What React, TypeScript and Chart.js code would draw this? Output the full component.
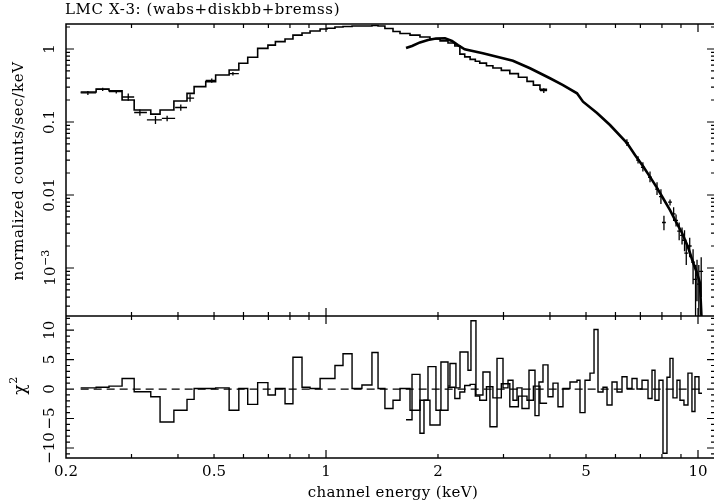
import React, { useEffect, useRef } from 'react';
import { Chart, registerables } from 'chart.js';

Chart.register(...registerables);

// ---------- text ----------
const TITLE = 'LMC X-3: (wabs+diskbb+bremss)';
const X_TITLE = 'channel energy (keV)';
const Y_TITLE = 'normalized counts/sec/keV';
const R_TITLE = 'χ';
const R_TITLE_SUP = '2';

// ---------- axes ----------
const X_MIN = 0.2;
const X_MAX = 11.11;
const F_MIN = 2.2e-4;
const F_MAX = 2.2;
const R_MIN = -11.7;
const R_MAX = 12.4;

const X_TICK_VALUES = [0.2, 0.5, 1, 2, 5, 10];
const X_TICK_LABELS = ['0.2', '0.5', '1', '2', '5', '10'];
const X_MAJOR = [1, 10];
const X_MINOR = [0.3, 0.4, 0.5, 0.6, 0.7, 0.8, 0.9, 2, 3, 4, 5, 6, 7, 8, 9];
const F_TICK_VALUES = [1, 0.1, 0.01, 0.001];
const F_TICK_LABELS = ['1', '0.1', '0.01', '10'];
const F_TICK_SUPS = ['', '', '', '−3'];
const R_TICK_VALUES = [10, 5, 0, -5, -10];
const R_TICK_LABELS = ['10', '5', '0', '−5', '−10'];

// ---------- data set A (low-energy instrument) ----------
const A_EDGES = [0.219, 0.241, 0.261, 0.283, 0.305, 0.338, 0.358, 0.39, 0.423, 0.442, 0.475, 0.505, 0.549, 0.583, 0.616, 0.655, 0.698, 0.731, 0.776, 0.815, 0.862, 0.906, 0.964, 1.006, 1.057, 1.111, 1.175, 1.249, 1.329, 1.38, 1.44, 1.514, 1.581, 1.682, 1.789, 1.903, 2.026, 2.128, 2.22, 2.29, 2.36, 2.44, 2.52, 2.59, 2.7, 2.81, 2.96, 3.12, 3.29, 3.47, 3.61, 3.76, 3.93];
const A_MODEL = [0.257, 0.283, 0.268, 0.2, 0.146, 0.128, 0.146, 0.194, 0.247, 0.305, 0.357, 0.44, 0.515, 0.637, 0.77, 1.02, 1.13, 1.26, 1.37, 1.55, 1.66, 1.76, 1.88, 1.92, 2.0, 2.03, 2.07, 2.07, 2.1, 2.07, 1.91, 1.74, 1.63, 1.55, 1.46, 1.37, 1.29, 1.21, 1.1, 0.85, 0.78, 0.72, 0.68, 0.64, 0.59, 0.55, 0.51, 0.46, 0.41, 0.36, 0.32, 0.28];
const A_RESID = [0.2, 0.3, 0.5, 1.8, -0.45, -1.3, -5.6, -3.6, -1.75, 0.1, 0.1, 0.2, -3.6, 0.1, -2.6, 1.1, -1.0, 0.1, -2.5, 5.4, 0.3, 0.1, 1.8, 1.8, 4.0, 6.0, 0.1, 0.7, 6.2, 0.1, -3.3, -1.9, 0.1, -3.6, -1.9, -6.1, -3.6, 0.3, -1.6, -0.5, 0.6, 0.8, -1.2, -1.9, 0.4, -1.5, 0.9, -3.0, -1.2, -1.9, 0.5, -2.4];

const A_DAT_E = [0.229, 0.251, 0.273, 0.294, 0.316, 0.348, 0.374, 0.407, 0.431, 0.493, 0.562, 3.85];
const A_DAT_ELO = [0.219, 0.241, 0.261, 0.283, 0.305, 0.33, 0.362, 0.393, 0.423, 0.475, 0.549, 3.76];
const A_DAT_EHI = [0.241, 0.261, 0.283, 0.305, 0.33, 0.362, 0.393, 0.423, 0.442, 0.505, 0.583, 3.93];
const A_DAT_F = [0.25, 0.28, 0.26, 0.22, 0.135, 0.107, 0.112, 0.158, 0.213, 0.37, 0.46, 0.27];
const A_DAT_FLO = [0.235, 0.265, 0.245, 0.195, 0.122, 0.094, 0.102, 0.143, 0.19, 0.345, 0.435, 0.25];
const A_DAT_FHI = [0.265, 0.295, 0.275, 0.245, 0.148, 0.121, 0.122, 0.173, 0.24, 0.395, 0.485, 0.29];

// ---------- data set B (high-energy instrument) ----------
const B_E = [1.641, 1.703, 1.789, 1.88, 1.975, 2.089, 2.181, 2.263, 2.36, 2.64, 2.99, 3.18, 3.535, 4.0, 4.336, 4.729, 4.908, 5.352, 5.8, 6.444, 6.77, 7.11, 7.43, 7.76, 8.05, 8.41, 8.73, 9.06, 9.4, 9.69, 9.94, 10.12, 10.25];
const B_F = [1.03, 1.1, 1.23, 1.33, 1.39, 1.4, 1.29, 1.13, 0.99, 0.873, 0.746, 0.691, 0.544, 0.397, 0.321, 0.247, 0.19, 0.133, 0.091, 0.0515, 0.0353, 0.025, 0.0177, 0.0125, 0.0091, 0.0062, 0.00427, 0.00302, 0.00194, 0.00121, 0.000855, 0.000623, 0.00015];

const B_ERR_E = [6.44, 6.9, 7.11, 7.43, 7.76, 7.95, 8.1, 8.41, 8.6, 8.73, 8.9, 9.06, 9.2, 9.3, 9.5, 9.7, 9.85, 9.94, 10.05, 10.2];
const B_ERR_F = [0.052, 0.03, 0.024, 0.0175, 0.012, 0.0095, 0.0042, 0.008, 0.0055, 0.0045, 0.0032, 0.0028, 0.0024, 0.0016, 0.002, 0.0012, 0.0007, 0.0008, 0.0006, 0.0009];
const B_ERR_LO = [0.047, 0.027, 0.021, 0.015, 0.01, 0.0075, 0.0033, 0.0072, 0.0044, 0.0037, 0.0024, 0.0021, 0.0017, 0.0011, 0.0014, 0.0006, 0.0001, 0.00035, 0.0001, 0.0004];
const B_ERR_HI = [0.058, 0.034, 0.028, 0.021, 0.015, 0.012, 0.0052, 0.0087, 0.0068, 0.0054, 0.0042, 0.0036, 0.0033, 0.0022, 0.0026, 0.0018, 0.0011, 0.0013, 0.0011, 0.0014];

const B_R_EDGES = [1.641, 1.703, 1.789, 1.834, 1.88, 1.975, 2.037, 2.128, 2.154, 2.235, 2.292, 2.408, 2.453, 2.53, 2.642, 2.759, 2.882, 2.991, 3.085, 3.182, 3.262, 3.364, 3.513, 3.646, 3.737, 3.831, 3.951, 4.076, 4.204, 4.336, 4.528, 4.729, 4.817, 4.969, 5.125, 5.254, 5.385, 5.555, 5.694, 5.873, 6.058, 6.248, 6.444, 6.647, 6.856, 7.072, 7.339, 7.523, 7.663, 7.855, 8.052, 8.253, 8.408, 8.566, 8.78, 8.945, 9.168, 9.398, 9.633, 9.814, 10.06, 10.25];
const B_RESID = [-5.2, 2.5, -7.5, -1.9, 3.8, -3.6, 4.6, 0.5, 4.35, 0.2, 6.3, 3.2, 11.6, -1.0, 2.9, -6.4, 5.2, 0.2, 1.5, -1.9, 0.2, -3.3, 3.2, -4.5, 1.2, 4.1, -1.3, 1.0, -3.0, 0.1, 1.2, 1.5, -4.0, 1.5, 2.7, 10.1, -0.5, 0.3, -2.7, 1.2, -0.5, 2.1, 0.1, 1.8, 0.0, 1.5, -1.6, 3.2, -1.9, 1.5, -10.9, 2.0, 5.2, -1.5, 1.5, -1.9, -2.7, 2.7, -3.8, 2.1, -0.7];

const ZERO_FROM = 0.219;
const ZERO_TO = 10.25;

// ---------- style ----------
const INK = '#000000';
const FONT_FAMILY = '"DejaVu Serif", "Liberation Serif", serif';

function steps(edges: number[], values: number[]) {
  const pts = values.map((v, i) => ({ x: edges[i], y: v }));
  pts.push({ x: edges[edges.length - 1], y: values[values.length - 1] });
  return pts;
}

function rotText(ctx: any, text: string, cx: number, cy: number, font: string, spacing = '0px') {
  ctx.save();
  ctx.translate(cx, cy);
  ctx.rotate(-Math.PI / 2);
  ctx.font = font;
  ctx.letterSpacing = spacing;
  ctx.textAlign = 'center';
  ctx.textBaseline = 'middle';
  ctx.fillText(text, 0, 0);
  ctx.restore();
}

function rotTextSup(ctx: any, base: string, sup: string, cx: number, cy: number, baseSize: number, supSize: number) {
  ctx.save();
  ctx.translate(cx, cy);
  ctx.rotate(-Math.PI / 2);
  ctx.textBaseline = 'alphabetic';
  ctx.textAlign = 'left';
  ctx.font = `${baseSize}px ${FONT_FAMILY}`;
  const w1 = ctx.measureText(base).width;
  ctx.font = `${supSize}px ${FONT_FAMILY}`;
  const w2 = ctx.measureText(sup).width;
  const w = w1 + w2;
  ctx.font = `${baseSize}px ${FONT_FAMILY}`;
  ctx.fillText(base, -w / 2, baseSize * 0.36);
  ctx.font = `${supSize}px ${FONT_FAMILY}`;
  ctx.fillText(sup, -w / 2 + w1 + 0.5, baseSize * 0.36 - baseSize * 0.45);
  ctx.restore();
}

const framePlugin = {
  id: 'xspecFrame',
  afterDatasetsDraw(chart: any) {
    const ctx = chart.ctx;
    const sx = chart.scales.x;
    const st = chart.scales.y;
    const L = sx.left, R = sx.right, T = st.top, M = st.bottom;
    ctx.save();
    ctx.beginPath();
    ctx.rect(L, T, R - L, M - T);
    ctx.clip();
    ctx.strokeStyle = INK;
    ctx.lineWidth = 1.3;
    ctx.beginPath();
    A_DAT_E.forEach((e, i) => {
      const px = sx.getPixelForValue(e);
      const py = st.getPixelForValue(A_DAT_F[i]);
      ctx.moveTo(sx.getPixelForValue(A_DAT_ELO[i]), py);
      ctx.lineTo(sx.getPixelForValue(A_DAT_EHI[i]), py);
      ctx.moveTo(px, st.getPixelForValue(A_DAT_FLO[i]));
      ctx.lineTo(px, st.getPixelForValue(A_DAT_FHI[i]));
    });
    B_ERR_E.forEach((e, i) => {
      const px = sx.getPixelForValue(e);
      const py = st.getPixelForValue(B_ERR_F[i]);
      ctx.moveTo(sx.getPixelForValue(e * 0.988), py);
      ctx.lineTo(sx.getPixelForValue(e * 1.012), py);
      ctx.moveTo(px, st.getPixelForValue(B_ERR_LO[i]));
      ctx.lineTo(px, st.getPixelForValue(B_ERR_HI[i]));
    });
    ctx.stroke();
    ctx.restore();
  },
  afterDraw(chart: any) {
    const ctx = chart.ctx;
    const sx = chart.scales.x;
    const st = chart.scales.y;
    const sb = chart.scales.y2;
    const L = sx.left, R = sx.right;
    const T = st.top, M = st.bottom, B = sb.bottom;
    ctx.save();
    ctx.strokeStyle = INK;
    ctx.lineWidth = 1.5;
    ctx.beginPath();
    ctx.moveTo(L, T); ctx.lineTo(R, T); ctx.lineTo(R, B); ctx.lineTo(L, B); ctx.closePath();
    ctx.moveTo(L, M); ctx.lineTo(R, M);
    ctx.stroke();

    ctx.lineWidth = 1.2;
    ctx.beginPath();
    const xt = (v: number, len: number) => {
      const p = sx.getPixelForValue(v);
      ctx.moveTo(p, T); ctx.lineTo(p, T + len);
      ctx.moveTo(p, M - len); ctx.lineTo(p, M + len);
      ctx.moveTo(p, B); ctx.lineTo(p, B - len);
    };
    X_MINOR.forEach(v => xt(v, 4));
    X_MAJOR.forEach(v => xt(v, 8));
    const yt = (scale: any, v: number, len: number) => {
      const p = scale.getPixelForValue(v);
      ctx.moveTo(L, p); ctx.lineTo(L + len, p);
      ctx.moveTo(R, p); ctx.lineTo(R - len, p);
    };
    for (let k = -4; k <= 0; k++) {
      for (let m = 1; m <= 9; m++) {
        const v = m * Math.pow(10, k);
        if (v < F_MIN || v > F_MAX) continue;
        yt(st, v, m === 1 ? 8 : 4);
      }
    }
    for (let v = Math.ceil(R_MIN); v <= Math.floor(R_MAX); v++) {
      yt(sb, v, v % 5 === 0 ? 8 : 4);
    }
    ctx.stroke();

    // labels
    ctx.fillStyle = INK;
    ctx.font = `15px ${FONT_FAMILY}`;
    ctx.textAlign = 'center';
    ctx.textBaseline = 'middle';
    X_TICK_VALUES.forEach((v, i) => ctx.fillText(X_TICK_LABELS[i], sx.getPixelForValue(v), B + 14));

    F_TICK_VALUES.forEach((v, i) => {
      const p = st.getPixelForValue(v);
      if (F_TICK_SUPS[i]) rotTextSup(ctx, F_TICK_LABELS[i], F_TICK_SUPS[i], 50, p, 15, 11);
      else rotText(ctx, F_TICK_LABELS[i], 50, p, `15px ${FONT_FAMILY}`);
    });
    R_TICK_VALUES.forEach((v, i) => {
      rotText(ctx, R_TICK_LABELS[i], 50, sb.getPixelForValue(v), `15px ${FONT_FAMILY}`);
    });

    // titles
    ctx.font = `15px ${FONT_FAMILY}`;
    ctx.letterSpacing = '0.6px';
    ctx.textAlign = 'left';
    ctx.fillText(TITLE, 65, 10);
    ctx.textAlign = 'center';
    ctx.letterSpacing = '0.4px';
    ctx.fillText(X_TITLE, 393, 493);
    ctx.letterSpacing = '0px';
    rotText(ctx, Y_TITLE, 19, 171, `15px ${FONT_FAMILY}`, '0.6px');
    rotTextSup(ctx, R_TITLE, R_TITLE_SUP, 19, 386, 17, 11);
    ctx.restore();
  },
};

export default function App() {
  const ref = useRef<HTMLCanvasElement>(null);
  useEffect(() => {
    const canvas = ref.current;
    if (!canvas) return;
    const line = { borderColor: INK, pointRadius: 0, fill: false, tension: 0 };
    const chart = new Chart(canvas, {
      type: 'line',
      data: {
        datasets: [
          { ...line, data: steps(A_EDGES, A_MODEL), stepped: 'before', borderWidth: 1.6, xAxisID: 'x', yAxisID: 'y' },
          { ...line, data: B_E.map((e, i) => ({ x: e, y: B_F[i] })), borderWidth: 2.6, xAxisID: 'x', yAxisID: 'y' },
          { ...line, data: [{ x: ZERO_FROM, y: 0 }, { x: ZERO_TO, y: 0 }], borderWidth: 1.2, borderDash: [8, 5], xAxisID: 'x', yAxisID: 'y2' },
          { ...line, data: steps(A_EDGES, A_RESID), stepped: 'before', borderWidth: 1.4, xAxisID: 'x', yAxisID: 'y2' },
          { ...line, data: steps(B_R_EDGES, B_RESID), stepped: 'before', borderWidth: 1.4, xAxisID: 'x', yAxisID: 'y2' },
        ] as any,
      },
      options: {
        responsive: false,
        animation: false,
        events: [],
        layout: { padding: { left: 66, top: 24, right: 5, bottom: 45 } },
        plugins: { legend: { display: false }, tooltip: { enabled: false } },
        scales: {
          x: { type: 'logarithmic', position: 'bottom', min: X_MIN, max: X_MAX, display: false },
          y2: { type: 'linear', position: 'left', stack: 'panels', stackWeight: 142, weight: 1, min: R_MIN, max: R_MAX, display: false },
          y: { type: 'logarithmic', position: 'left', stack: 'panels', stackWeight: 292, weight: 2, min: F_MIN, max: F_MAX, display: false },
        } as any,
      },
      plugins: [framePlugin],
    });
    return () => chart.destroy();
  }, []);
  return (
    <div style={{ position: 'fixed', left: 0, top: 0, width: 714, height: 503, overflow: 'hidden', background: '#fff' }}>
      <canvas ref={ref} width={720} height={503} style={{ display: 'block', width: 720, height: 503 }} />
    </div>
  );
}
